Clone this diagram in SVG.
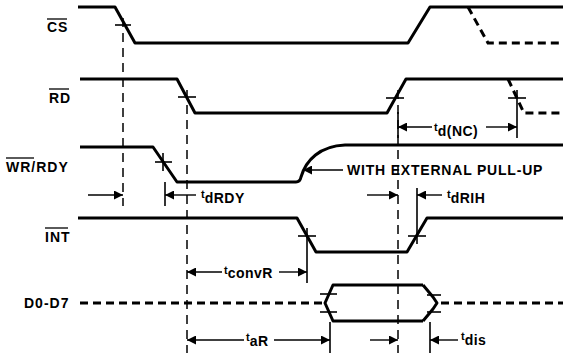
<svg xmlns="http://www.w3.org/2000/svg" width="563" height="353" viewBox="0 0 563 353">
<style>
.w{fill:none;stroke:#000;stroke-width:3;stroke-linejoin:round}
.wd{fill:none;stroke:#000;stroke-width:3;stroke-dasharray:8 5}
.vd{fill:none;stroke:#000;stroke-width:1.5;stroke-dasharray:9 6}
.d{fill:none;stroke:#000;stroke-width:1.4}
.t{stroke:#000;stroke-width:1.6}
.lab{font-family:"Liberation Sans",Arial,sans-serif;font-weight:bold;font-size:14px;letter-spacing:1px;fill:#000}
.sm{font-family:"Liberation Sans",Arial,sans-serif;font-weight:bold;font-size:11px;fill:#000}
.sub{font-family:"Liberation Sans",Arial,sans-serif;font-weight:bold;font-size:14px;letter-spacing:0.5px;fill:#000}
.ov{stroke:#000;stroke-width:1.3}
</style>
<defs>
<marker id="ah" viewBox="0 0 10 10" refX="10" refY="5" markerWidth="10" markerHeight="9" markerUnits="userSpaceOnUse" orient="auto"><path d="M0,0L10,5L0,10z" fill="#000"/></marker>
</defs>

<g id="labels">
<text class="lab" x="47" y="32">CS</text><line class="ov" x1="47" y1="19" x2="67" y2="19"/>
<text class="lab" x="49" y="103">RD</text><line class="ov" x1="49" y1="89" x2="69" y2="89"/>
<text class="lab" x="6" y="172">WR/RDY</text><line class="ov" x1="6" y1="158" x2="34" y2="158"/>
<text class="lab" x="45" y="242">INT</text><line class="ov" x1="45" y1="228" x2="68" y2="228"/>
<text class="lab" x="24" y="308">D0-D7</text>
</g>

<g id="cs">
<path class="w" d="M78,7 L115,7 L135,43 L408,43 L430,7 L563,7"/>
<path class="wd" d="M468,7 L488,43 L563,43"/>
</g>

<g id="rd">
<path class="w" d="M80,79 L177,79 L195,113 L387,113 L406,79 L563,79"/>
<path class="wd" d="M508,79 L524,113 L563,113"/>
</g>

<g id="wr">
<path class="w" d="M80,147 L153,147 L177,182 L296,182 Q300,182 301,177 C306,160 320,146 345,145 L563,145"/>
</g>

<g id="int">
<path class="w" d="M78,218 L297,218 L316,252 L407,252 L427,218 L563,218"/>
</g>

<g id="bus">
<path class="wd" d="M80,303 L323,303"/>
<path class="w" d="M423,285 L333,285 L325,303 L333,321 L423,321"/>
<path class="w" d="M423,285 L433,297 L437,303 L433,309 L423,321"/>
<path class="wd" d="M441,303 L563,303"/>
</g>

<g id="connectors">
<line class="vd" x1="123" y1="18" x2="123" y2="206"/>
<line class="vd" x1="187" y1="90" x2="187" y2="353"/>
<line class="vd" x1="398" y1="90" x2="398" y2="353"/>
<line class="t" x1="115" y1="25" x2="131" y2="25"/>
<line class="t" x1="178" y1="97" x2="196" y2="97"/>
<line class="t" x1="386" y1="98" x2="404" y2="98"/>
<line class="t" x1="508" y1="98" x2="526" y2="98"/>
<line class="t" x1="517" y1="90" x2="517" y2="138"/>
<line class="t" x1="398" y1="112" x2="398" y2="138"/>
<line class="t" x1="155" y1="162" x2="172" y2="162"/>
<line class="t" x1="163" y1="153" x2="163" y2="171"/>
<line class="t" x1="298" y1="236" x2="316" y2="236"/>
<line class="t" x1="307" y1="228" x2="307" y2="283"/>
<line class="t" x1="408" y1="236" x2="426" y2="236"/>
<line class="t" x1="417" y1="188" x2="417" y2="244"/>
<line class="t" x1="320" y1="294" x2="337" y2="294"/>
<line class="t" x1="320" y1="312" x2="337" y2="312"/>
<line class="t" x1="427" y1="295" x2="441" y2="295"/>
<line class="t" x1="427" y1="312" x2="441" y2="312"/>
<line class="t" x1="165" y1="182" x2="165" y2="206"/>
<line class="t" x1="330" y1="322" x2="330" y2="353"/>
<line class="t" x1="430" y1="322" x2="430" y2="353"/>
<line class="d" x1="432" y1="127" x2="398" y2="127" marker-end="url(#ah)"/>
<line class="d" x1="486" y1="127" x2="517" y2="127" marker-end="url(#ah)"/>
<line class="d" x1="343" y1="170" x2="303" y2="170" marker-end="url(#ah)"/>
<line class="d" x1="88" y1="195" x2="123" y2="195" marker-end="url(#ah)"/>
<line class="d" x1="196" y1="195" x2="165" y2="195" marker-end="url(#ah)"/>
<line class="d" x1="367" y1="195" x2="398" y2="195" marker-end="url(#ah)"/>
<line class="d" x1="442" y1="195" x2="417" y2="195" marker-end="url(#ah)"/>
<line class="d" x1="222" y1="272" x2="187" y2="272" marker-end="url(#ah)"/>
<line class="d" x1="279" y1="272" x2="307" y2="272" marker-end="url(#ah)"/>
<line class="d" x1="244" y1="340" x2="187" y2="340" marker-end="url(#ah)"/>
<line class="d" x1="274" y1="340" x2="330" y2="340" marker-end="url(#ah)"/>
<line class="d" x1="370" y1="340" x2="398" y2="340" marker-end="url(#ah)"/>
<line class="d" x1="458" y1="340" x2="430" y2="340" marker-end="url(#ah)"/>
</g>

<g id="timing-labels">
<text x="434" y="131"><tspan class="sm">t</tspan><tspan class="sub" dy="5">d(NC)</tspan></text>
<text x="347" y="175" class="lab" style="font-size:14px;letter-spacing:0.8px">WITH EXTERNAL PULL-UP</text>
<text x="201" y="198"><tspan class="sm">t</tspan><tspan class="sub" dy="5">dRDY</tspan></text>
<text x="447" y="198"><tspan class="sm">t</tspan><tspan class="sub" dy="5">dRIH</tspan></text>
<text x="224" y="274"><tspan class="sm">t</tspan><tspan class="sub" dy="4">convR</tspan></text>
<text x="246" y="341"><tspan class="sm">t</tspan><tspan class="sub" dy="5">aR</tspan></text>
<text x="461" y="340"><tspan class="sm">t</tspan><tspan class="sub" dy="5">dis</tspan></text>
</g>
</svg>
